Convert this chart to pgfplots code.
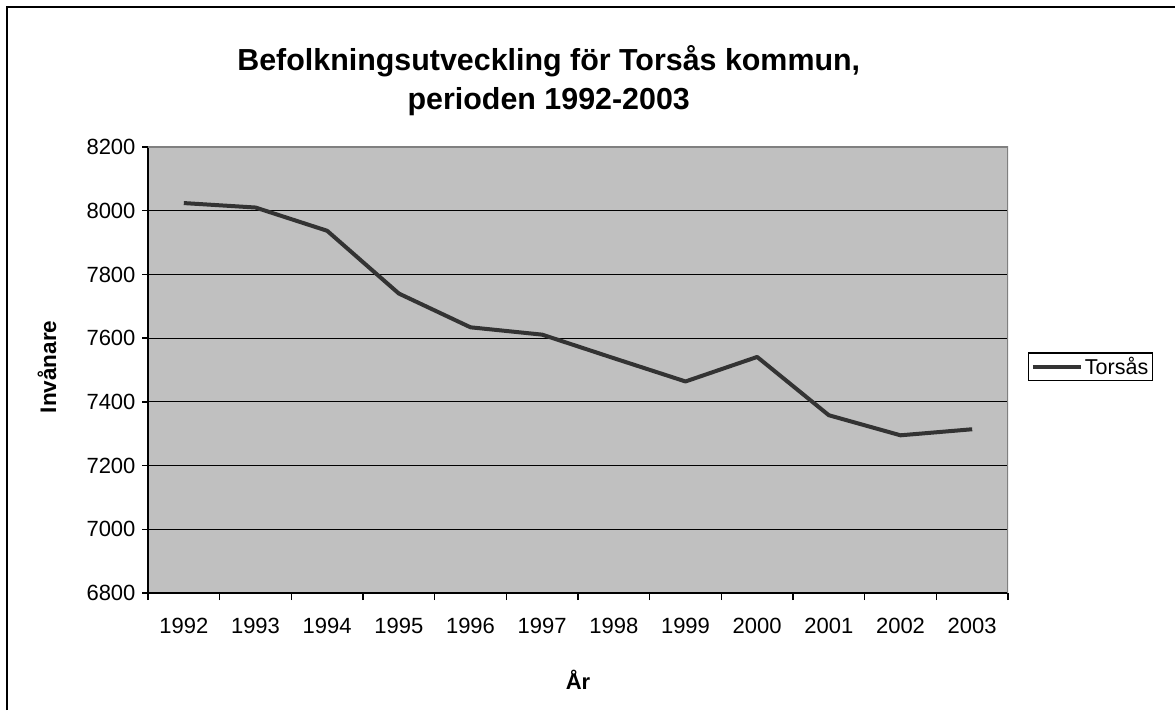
\documentclass[border=0pt]{standalone}
\usepackage{fontspec}
\setmainfont{Liberation Sans}
\usepackage{pgfplots}
\pgfplotsset{compat=1.18}
\definecolor{plotbg}{HTML}{C0C0C0}
\definecolor{linec}{HTML}{333333}
\definecolor{bordergray}{HTML}{808080}
\begin{document}
\begin{tikzpicture}
\useasboundingbox (0pt,0pt) rectangle (1175pt,710pt);
\draw[line width=2pt] (7pt,0pt) -- (7pt,703pt) -- (1175pt,703pt);
\begin{axis}[
  at={(148pt,117pt)}, anchor=south west,
  scale only axis, width=860pt, height=446pt,
  xmin=-0.5, xmax=11.5, ymin=6800, ymax=8200,
  axis lines=left,
  axis line style={-, line width=1.5pt, black},
  axis background/.style={fill=plotbg},
  tick align=outside,
  major tick length=6pt,
  minor tick length=7pt,
  xtick={0,...,11},
  xticklabels={1992,1993,1994,1995,1996,1997,1998,1999,2000,2001,2002,2003},
  major x tick style={draw=none},
  minor xtick={-0.5,0.5,...,11.5},
  minor x tick style={draw=black, line width=1.3pt},
  ytick={6800,7000,...,8200},
  major y tick style={draw=black, line width=1.3pt},
  extra y ticks={7000,7200,...,8000},
  extra y tick labels={},
  extra y tick style={grid=major, major tick length=0pt},
  grid style={black, line width=0.9pt},
  /pgf/number format/1000 sep={},
  /pgf/number format/assume math mode=true,
  ticklabel style={font=\fontsize{22}{26}\selectfont},
  yticklabel style={xshift=-3pt},
  xticklabel style={yshift=-16pt},
  title={Befolkningsutveckling för Torsås kommun,\\perioden 1992-2003},
  title style={at={(axis description cs:0.466,1)}, anchor=south, yshift=25pt,
    inner sep=0pt, align=center, font=\bfseries\fontsize{30.4}{38.5}\selectfont},
  ylabel={Invånare},
  ylabel style={at={(axis description cs:-0.1174,0.507)}, anchor=center,
    font=\bfseries\fontsize{22.5}{26}\selectfont},
  xlabel={År},
  xlabel style={at={(axis description cs:0.5,-0.195)}, anchor=center,
    font=\bfseries\fontsize{22}{26}\selectfont},
  legend style={at={(axis description cs:1.023,0.507)}, anchor=west,
    draw=black, line width=1.3pt, fill=white,
    font=\fontsize{21.5}{25}\selectfont, inner sep=2.5pt},
  legend image code/.code={\draw[#1, line width=4pt] (0pt,0pt) -- (48pt,0pt);},
]
\addplot[color=linec, line width=4pt, line join=round, mark=none] coordinates {
  (0,8024) (1,8010) (2,7937) (3,7740) (4,7634) (5,7611)
  (6,7537) (7,7464) (8,7541) (9,7358) (10,7295) (11,7314)
};
\addlegendentry{Torsås}
\draw[bordergray, line width=1.5pt] (rel axis cs:0,1) -- (rel axis cs:1,1) -- (rel axis cs:1,0);
\end{axis}
\end{tikzpicture}
\end{document}
